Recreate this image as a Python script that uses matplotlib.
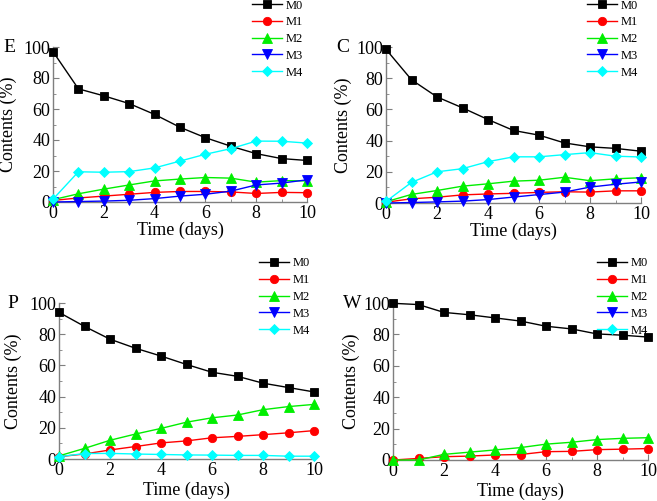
import matplotlib
matplotlib.use("Agg")
import matplotlib.pyplot as plt
from matplotlib.ticker import MultipleLocator

# ================================
# DATA
# ================================

days = list(range(11))
series_names = ["M0", "M1", "M2", "M3", "M4"]

e_m0 = [97, 73, 68.5, 63.5, 56.5, 48.2, 41.5, 36, 31.2, 28, 26.8]
e_m1 = [1, 2.6, 3.8, 5, 6.2, 6.8, 6.8, 6.5, 5.5, 6.2, 6.0]
e_m2 = [1.5, 5.3, 8.3, 11, 13.6, 14.8, 15.8, 15.4, 12.8, 13.8, 13.6]
e_m3 = [0, 0.3, 0.6, 1.1, 2.2, 3.8, 5, 7, 11, 12.2, 14.3]
e_m4 = [1.8, 19.5, 19.2, 19.6, 22, 26.4, 30.8, 34.4, 39.3, 39.2, 38]

c_m0 = [98.5, 79, 68, 61, 53.5, 46.5, 43.5, 38.5, 36, 35, 33.2]
c_m1 = [0.5, 2.7, 3.7, 5.2, 5.8, 6.2, 6.8, 7.2, 7, 7.8, 7.8]
c_m2 = [0.8, 5.5, 8, 10.8, 12.3, 14, 14.6, 16.5, 14.3, 15.5, 16.2]
c_m3 = [0, 0.3, 0.7, 1.2, 2.2, 3.8, 5.4, 7, 10.2, 12, 13.5]
c_m4 = [1, 13.2, 20, 22, 26.5, 29.6, 29.6, 31, 32.3, 30, 29.5]

p_m0 = [94, 85, 76.8, 71, 66, 60.6, 55.6, 53, 48.6, 45.8, 43]
p_m1 = [1.5, 3.2, 5.8, 8, 10.3, 11.6, 13.6, 14.5, 15.6, 16.8, 18.2]
p_m2 = [2, 6.8, 12, 16, 19.6, 23.6, 26.4, 28.2, 31.6, 33.6, 35]
p_m3 = []
p_m4 = [1.5, 3.5, 3.6, 3.2, 2.9, 2.6, 2.5, 2.3, 2.3, 1.8, 1.8]

w_m0 = [99.8, 99, 94, 92.5, 90.5, 88.5, 85.2, 83.5, 80.3, 79.5, 78.3]
w_m1 = [0, 1, 2.1, 2.5, 3.2, 3.5, 5.3, 5.5, 6.6, 6.9, 7.3]
w_m2 = [0, 0, 3.6, 5, 6.4, 7.9, 10.1, 11.3, 13, 13.8, 14.2]
w_m3 = []
w_m4 = []

panels = [
    ("E", [e_m0, e_m1, e_m2, e_m3, e_m4]),
    ("C", [c_m0, c_m1, c_m2, c_m3, c_m4]),
    ("P", [p_m0, p_m1, p_m2, p_m3, p_m4]),
    ("W", [w_m0, w_m1, w_m2, w_m3, w_m4]),
]

# ================================
# STYLE / LAYOUT
# ================================

colors = ["#000000", "#ff0000", "#00ee00", "#0000ff", "#00ffff"]
markers = ["s", "o", "^", "v", "D"]
msizes = [5.5, 6, 6.5, 6.5, 5.5]

W, H = 657, 501
# axes boxes in pixels: left, right, top, bottom
boxes = [(53, 307, 47, 202), (386, 641, 47, 203), (59, 314, 303, 459), (393, 648, 303, 460)]
# legend upper-left corner in pixels
legend_pos = [(249, -3), (584, -3), (256, 255), (594, 255)]
# panel letter position (left, y centre of "100")
letter_pos = [(3, 47), (336, 47), (7, 303), (343, 303)]
ylabel_x = [-0.14, -0.133, -0.145, -0.13]
xlabel_y = [-0.125, -0.125, -0.145, -0.145]

plt.rcParams["font.family"] = ["Liberation Serif", "DejaVu Serif"]

fig = plt.figure(figsize=(W / 100, H / 100), dpi=100)
axis_gray = "#7f7f7f"

for i, (letter, data) in enumerate(panels):
    l, r, t, b = boxes[i]
    ax = fig.add_axes([l / W, (H - b) / H, (r - l) / W, (b - t) / H])
    handles = []
    for name, vals, col, mk, ms in zip(series_names, data, colors, markers, msizes):
        x = days[:len(vals)]
        h, = ax.plot(x, vals, color=col, marker=mk, markersize=ms, linewidth=1.0,
                     markeredgewidth=0.6, markeredgecolor=col, label=name, clip_on=False,
                     zorder=3)
        handles.append(h)

    ax.set_xlim(0, 10)
    ax.set_ylim(0, 100)
    ax.xaxis.set_major_locator(MultipleLocator(2))
    ax.xaxis.set_minor_locator(MultipleLocator(1))
    ax.yaxis.set_major_locator(MultipleLocator(20))
    ax.yaxis.set_minor_locator(MultipleLocator(10))
    ax.spines["top"].set_visible(False)
    ax.spines["right"].set_visible(False)
    for s in ("left", "bottom"):
        ax.spines[s].set_color(axis_gray)
        ax.spines[s].set_linewidth(1.0)
    ax.tick_params(which="both", direction="in", colors=axis_gray, labelcolor="black",
                   labelsize=13, pad=2)
    ax.tick_params(which="major", length=4)
    ax.tick_params(which="minor", length=2.5)

    ax.set_ylabel("Contents (%)", fontsize=13)
    ax.set_xlabel("Time (days)", fontsize=13)
    ax.yaxis.set_label_coords(ylabel_x[i], 0.5)
    ax.xaxis.set_label_coords(0.5, xlabel_y[i])
    ax.xaxis.label.set_va("top")

    lx, ly = legend_pos[i]
    ax.legend(handles=handles, loc="upper left", bbox_to_anchor=(lx / W, 1 - ly / H),
              bbox_transform=fig.transFigure, frameon=False, fontsize=9,
              handlelength=2.4, handletextpad=0.3, labelspacing=0.38, borderpad=0.2,
              borderaxespad=0)

    px, py = letter_pos[i]
    fig.text(px / W, 1 - py / H, letter, fontsize=14, ha="left", va="center")

fig.savefig("out.png", dpi=100)
